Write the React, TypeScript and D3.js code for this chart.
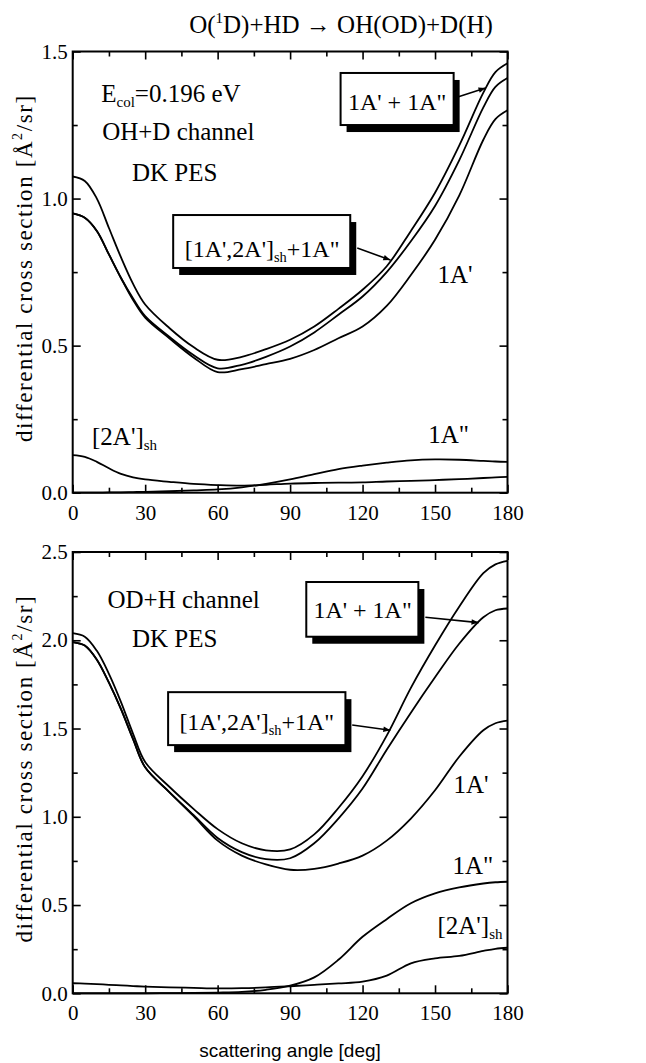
import React, { useEffect, useRef } from 'react';
import * as d3 from 'd3';

// scattering angles (deg) shared by every curve
const angles = [0, 5, 10, 15, 20, 25, 30, 40, 50, 60, 70, 80, 90, 100, 110, 120, 130, 140, 150, 160, 170, 175, 180];

// OH+D channel (top panel)
const topShared = [1.075, 1.06, 1.0, 0.9, 0.8, 0.71, 0.64, 0.56, 0.495, 0.452, 0.462, 0.488, 0.52, 0.565, 0.625, 0.69, 0.77, 0.89, 1.02, 1.18, 1.36, 1.43, 1.46];
const topTotal = [0.95, 0.935, 0.89, 0.81, 0.73, 0.66, 0.6, 0.53, 0.468, 0.423, 0.435, 0.462, 0.497, 0.545, 0.605, 0.667, 0.75, 0.855, 0.975, 1.13, 1.31, 1.38, 1.41];
const top1A1 = [0.95, 0.935, 0.89, 0.81, 0.73, 0.655, 0.595, 0.525, 0.46, 0.41, 0.42, 0.437, 0.455, 0.485, 0.525, 0.565, 0.635, 0.74, 0.86, 1.01, 1.2, 1.27, 1.3];
const top1A2 = [0, 0, 0, 0.001, 0.001, 0.002, 0.003, 0.005, 0.008, 0.011, 0.018, 0.03, 0.045, 0.063, 0.08, 0.092, 0.102, 0.11, 0.113, 0.112, 0.108, 0.106, 0.105];
const top2Ash = [0.128, 0.122, 0.105, 0.083, 0.064, 0.052, 0.045, 0.037, 0.03, 0.026, 0.024, 0.027, 0.031, 0.033, 0.034, 0.035, 0.038, 0.04, 0.043, 0.046, 0.05, 0.052, 0.054];

// OD+H channel (bottom panel)
const botShared = [2.04, 2.02, 1.94, 1.81, 1.65, 1.47, 1.31, 1.17, 1.045, 0.93, 0.85, 0.81, 0.815, 0.9, 1.05, 1.23, 1.46, 1.73, 1.97, 2.19, 2.38, 2.43, 2.45];
const botTotal = [1.99, 1.97, 1.89, 1.76, 1.61, 1.44, 1.28, 1.14, 1.01, 0.88, 0.8, 0.76, 0.765, 0.85, 0.99, 1.16, 1.38, 1.59, 1.79, 1.98, 2.13, 2.17, 2.18];
const bot1A1 = [1.99, 1.97, 1.89, 1.76, 1.61, 1.44, 1.28, 1.14, 1.005, 0.865, 0.78, 0.73, 0.7, 0.705, 0.735, 0.78, 0.865, 0.99, 1.15, 1.34, 1.49, 1.53, 1.545];
const bot1A2 = [0, 0, 0, 0, 0, 0, 0, 0.001, 0.002, 0.004, 0.008, 0.02, 0.043, 0.09, 0.19, 0.32, 0.42, 0.51, 0.566, 0.6, 0.622, 0.629, 0.632];
const bot2Ash = [0.057, 0.055, 0.052, 0.048, 0.045, 0.041, 0.038, 0.034, 0.031, 0.028, 0.029, 0.033, 0.04, 0.048, 0.056, 0.066, 0.1, 0.17, 0.198, 0.212, 0.24, 0.252, 0.258];

const xTicks = [0, 30, 60, 90, 120, 150, 180];
const xMinor = [15, 45, 75, 105, 135, 165];
const topYTicks = [0, 0.5, 1.0, 1.5];
const topYMinor = [0.25, 0.75, 1.25];
const botYTicks = [0, 0.5, 1.0, 1.5, 2.0, 2.5];
const botYMinor = [0.25, 0.75, 1.25, 1.75, 2.25];

const SERIF = '"Liberation Serif", "Times New Roman", serif';
const SANS = '"Liberation Sans", Arial, sans-serif';

export default function App() {
    const svgRef = useRef(null);

    useEffect(() => {
        const svg = d3.select(svgRef.current);
        svg.selectAll('*').remove();

        svg.append('defs').append('marker')
            .attr('id', 'arr')
            .attr('viewBox', '0 0 10 10')
            .attr('refX', 10).attr('refY', 5)
            .attr('markerWidth', 8).attr('markerHeight', 7)
            .attr('markerUnits', 'userSpaceOnUse')
            .attr('orient', 'auto')
            .append('path').attr('d', 'M0,1 L10,5 L0,9 Z').attr('fill', '#000');

        const left = 72.7, right = 507.5;

        const panels = [
            {
                top: 51.5, bottom: 492.7, yMax: 1.5, yTicks: topYTicks, yMinor: topYMinor,
                series: [topShared, topTotal, top1A1, top1A2, top2Ash],
                notes: [
                    { a: 11.8, v: 1.329, parts: [['E'], ['col', 'sub'], ['=0.196 eV']] },
                    { a: 12.2, v: 1.2, parts: [['OH+D channel']] },
                    { a: 24.5, v: 1.06, parts: [['DK PES']] },
                    { a: 8, v: 0.162, parts: [["[2A']"], ['sh', 'sub']] },
                    { a: 147.2, v: 0.17, parts: [['1A"']] },
                    { a: 151, v: 0.713, parts: [["1A'"]] },
                ],
                boxes: [
                    { a0: 110.9, a1: 157.7, v0: 1.427, v1: 1.25, ta: 134.3, tv: 1.3, parts: [["1A' + 1A\""]], from: [159.7, 1.346], to: [170.9, 1.376] },
                    { a0: 41.6, a1: 114.9, v0: 0.944, v1: 0.764, ta: 78.4, tv: 0.8, parts: [["[1A',2A']"], ['sh', 'sub'], ['+1A"']], from: [117.8, 0.832], to: [131.5, 0.791] },
                ],
            },
            {
                top: 552, bottom: 993.3, yMax: 2.5, yTicks: botYTicks, yMinor: botYMinor,
                series: [botShared, botTotal, bot1A1, bot1A2, bot2Ash],
                notes: [
                    { a: 14.4, v: 2.18, parts: [['OD+H channel']] },
                    { a: 24.5, v: 1.96, parts: [['DK PES']] },
                    { a: 157.6, v: 1.134, parts: [["1A'"]] },
                    { a: 157.2, v: 0.676, parts: [['1A"']] },
                    { a: 151, v: 0.336, parts: [["[2A']"], ['sh', 'sub']] },
                ],
                boxes: [
                    { a0: 96.7, a1: 143.1, v0: 2.33, v1: 2.02, ta: 120, tv: 2.125, parts: [["1A' + 1A\""]], from: [146, 2.13], to: [168, 2.1] },
                    { a0: 39.5, a1: 112.9, v0: 1.706, v1: 1.406, ta: 76.2, tv: 1.49, parts: [["[1A',2A']"], ['sh', 'sub'], ['+1A"']], from: [115.7, 1.52], to: [131.5, 1.49] },
                ],
            },
        ];

        const writeParts = (t, parts, size) => {
            let shift = 0;
            parts.forEach(([str, kind]) => {
                const sp = t.append('tspan').text(str);
                if (kind === 'sub') {
                    sp.attr('font-size', size * 0.6).attr('dy', 5 - shift);
                    shift = 5;
                } else if (shift !== 0) {
                    sp.attr('dy', -shift);
                    shift = 0;
                }
            });
        };

        panels.forEach((p) => {
            const x = d3.scaleLinear().domain([0, 180]).range([left, right]);
            const y = d3.scaleLinear().domain([0, p.yMax]).range([p.bottom, p.top]);
            const g = svg.append('g');

            const line = d3.line()
                .x((d, i) => x(angles[i]))
                .y((d) => y(d))
                .curve(d3.curveCatmullRom.alpha(0.5));

            p.series.forEach((s) => {
                g.append('path')
                    .attr('d', line(s))
                    .attr('fill', 'none')
                    .attr('stroke', '#000')
                    .attr('stroke-width', 1.8);
            });

            // axes, ticks pointing inward on all four sides
            const strip = (sel) => {
                sel.select('.domain').remove();
                sel.selectAll('line').attr('stroke', '#000').attr('stroke-width', 1.6);
            };
            const labelStyle = (a) => a.selectAll('text')
                .attr('font-family', SERIF).attr('font-size', 21).attr('fill', '#000');
            g.append('g').attr('transform', `translate(0,${p.bottom})`)
                .call(d3.axisBottom(x).tickValues(xTicks).tickSize(-8).tickPadding(12).tickFormat(d3.format('d')))
                .call(strip)
                .call(labelStyle);
            g.append('g').attr('transform', `translate(0,${p.bottom})`)
                .call(d3.axisBottom(x).tickValues(xMinor).tickSize(-5).tickFormat(() => ''))
                .call(strip);
            g.append('g').attr('transform', `translate(0,${p.top})`)
                .call(d3.axisTop(x).tickValues(xTicks).tickSize(-8).tickFormat(() => ''))
                .call(strip);
            g.append('g').attr('transform', `translate(0,${p.top})`)
                .call(d3.axisTop(x).tickValues(xMinor).tickSize(-5).tickFormat(() => ''))
                .call(strip);
            g.append('g').attr('transform', `translate(${left},0)`)
                .call(d3.axisLeft(y).tickValues(p.yTicks).tickSize(-8).tickPadding(5).tickFormat(d3.format('.1f')))
                .call(strip)
                .call(labelStyle);
            g.append('g').attr('transform', `translate(${left},0)`)
                .call(d3.axisLeft(y).tickValues(p.yMinor).tickSize(-5).tickFormat(() => ''))
                .call(strip);
            g.append('g').attr('transform', `translate(${right},0)`)
                .call(d3.axisRight(y).tickValues(p.yTicks).tickSize(-8).tickFormat(() => ''))
                .call(strip);
            g.append('g').attr('transform', `translate(${right},0)`)
                .call(d3.axisRight(y).tickValues(p.yMinor).tickSize(-5).tickFormat(() => ''))
                .call(strip);

            g.append('rect')
                .attr('x', left).attr('y', p.top)
                .attr('width', right - left).attr('height', p.bottom - p.top)
                .attr('fill', 'none').attr('stroke', '#000').attr('stroke-width', 2);

            // y label
            const yl = g.append('text')
                .attr('transform', `translate(32,${(p.top + p.bottom) / 2 - 4}) rotate(-90)`)
                .attr('text-anchor', 'middle')
                .attr('font-family', SERIF)
                .attr('font-size', 23)
                .attr('letter-spacing', 1.6);
            yl.append('tspan').text('differential cross section [Å');
            yl.append('tspan').text('2').attr('font-size', 14).attr('dy', -10);
            yl.append('tspan').text('/sr]').attr('dy', 10);

            p.notes.forEach((n) => {
                const t = g.append('text')
                    .attr('x', x(n.a)).attr('y', y(n.v))
                    .attr('font-family', SERIF).attr('font-size', 25);
                writeParts(t, n.parts, 25);
            });

            p.boxes.forEach((b) => {
                const bx = x(b.a0), by = y(b.v0), bw = x(b.a1) - x(b.a0), bh = y(b.v1) - y(b.v0);
                g.append('rect').attr('x', bx + 6).attr('y', by + 7).attr('width', bw).attr('height', bh).attr('fill', '#000');
                g.append('rect').attr('x', bx).attr('y', by).attr('width', bw).attr('height', bh)
                    .attr('fill', '#fff').attr('stroke', '#000').attr('stroke-width', 2);
                const t = g.append('text')
                    .attr('x', x(b.ta)).attr('y', y(b.tv))
                    .attr('text-anchor', 'middle')
                    .attr('font-family', SERIF).attr('font-size', 24);
                writeParts(t, b.parts, 24);
                g.append('line')
                    .attr('x1', x(b.from[0])).attr('y1', y(b.from[1]))
                    .attr('x2', x(b.to[0])).attr('y2', y(b.to[1]))
                    .attr('stroke', '#000').attr('stroke-width', 1.6)
                    .attr('marker-end', 'url(#arr)');
            });
        });

        // title
        const title = svg.append('text')
            .attr('x', 341).attr('y', 33)
            .attr('text-anchor', 'middle')
            .attr('font-family', SERIF).attr('font-size', 25);
        title.append('tspan').text('O(');
        title.append('tspan').text('1').attr('font-size', 15).attr('dy', -10);
        title.append('tspan').text('D)+HD → OH(OD)+D(H)').attr('dy', 10);

        svg.append('text')
            .attr('x', 290).attr('y', 1057)
            .attr('text-anchor', 'middle')
            .attr('font-family', SANS).attr('font-size', 19)
            .text('scattering angle [deg]');
    }, []);

    return (
        <svg ref={svgRef} width={646} height={1063}
            style={{ position: 'absolute', left: 0, top: 0, background: '#fff' }} />
    );
}
